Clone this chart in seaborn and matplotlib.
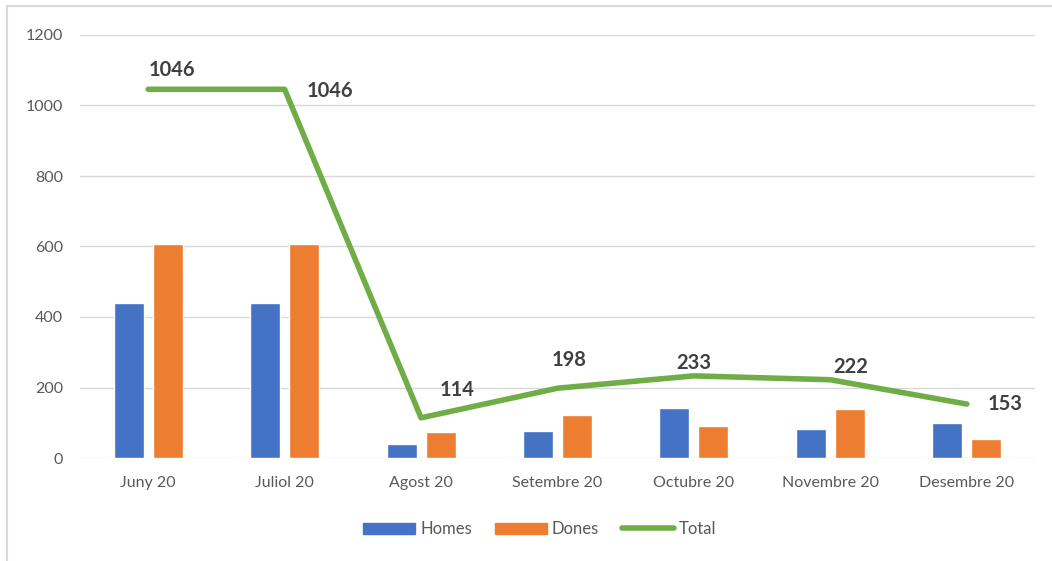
import matplotlib
matplotlib.use("Agg")
import matplotlib.pyplot as plt
from matplotlib.lines import Line2D
from matplotlib.patches import Patch
import seaborn as sns
import pandas as pd
import numpy as np

categories = ["Juny 20", "Juliol 20", "Agost 20", "Setembre 20", "Octubre 20", "Novembre 20", "Desembre 20"]
homes = [440, 440, 40, 76, 142, 83, 99]
dones = [606, 606, 74, 122, 91, 139, 54]
total = [1046, 1046, 114, 198, 233, 222, 153]
yticks = [0, 200, 400, 600, 800, 1000, 1200]

# label offsets in pixels (dx, dy) relative to each point
label_offsets = [(24, 19), (45, -2), (36, 28), (12, 28), (0, 13), (20, 13), (38, 0)]

BLUE = "#4472C4"
ORANGE = "#ED7D31"
GREEN = "#70AD47"

sns.set_theme(style="white")
plt.rcParams["font.family"] = ["Lato", "DejaVu Sans"]

fig = plt.figure(figsize=(10.52, 5.61), dpi=100)
ax = fig.add_axes([80 / 1052, 1 - 458 / 561, (1035 - 80) / 1052, (458 - 35) / 561])

df = pd.DataFrame({
    "cat": categories * 2,
    "serie": ["Homes"] * len(categories) + ["Dones"] * len(categories),
    "val": homes + dones,
})
sns.barplot(data=df, x="cat", y="val", hue="serie", palette=[BLUE, ORANGE],
            width=0.572, gap=0.23, ax=ax, legend=False, saturation=1)

x = np.arange(len(categories))
sns.lineplot(x=x, y=total, color=GREEN, linewidth=4, ax=ax, legend=False,
             solid_capstyle="round", solid_joinstyle="round", zorder=5)

for xi, v, (dx, dy) in zip(x, total, label_offsets):
    ax.annotate(str(v), (xi, v), xytext=(dx * 0.72, dy * 0.72), textcoords="offset points",
                ha="center", va="center", fontsize=14.5, fontweight="bold", color="#404040")

ax.set_xlim(-0.5, len(categories) - 0.5)
ax.set_ylim(0, 1200)
ax.set_yticks(yticks)
ax.set_yticklabels([str(t) for t in yticks])
ax.set_xlabel("")
ax.set_ylabel("")
ax.grid(axis="y", color="#D9D9D9", linewidth=1)
ax.set_axisbelow(True)
for s in ax.spines.values():
    s.set_visible(False)
ax.tick_params(axis="both", length=0, labelsize=11.5, labelcolor="#595959")
ax.tick_params(axis="y", pad=12)
ax.tick_params(axis="x", pad=13)

handles = [Patch(color=BLUE, label="Homes"), Patch(color=ORANGE, label="Dones"),
           Line2D([0], [0], color=GREEN, linewidth=4, label="Total", solid_capstyle="round")]
fig.legend(handles=handles, loc="center", bbox_to_anchor=(540 / 1052, 1 - 529 / 561),
           ncol=3, frameon=False, fontsize=12, labelcolor="#595959",
           handlelength=3.1, handleheight=0.62, handletextpad=0.3, columnspacing=1.4)

# outer chart border
fig.add_artist(Line2D([7 / 1052, 7 / 1052], [0, 1 - 6 / 561], transform=fig.transFigure,
                      color="#D9D9D9", linewidth=1.5))
fig.add_artist(Line2D([7 / 1052, 1], [1 - 6 / 561, 1 - 6 / 561], transform=fig.transFigure,
                      color="#D9D9D9", linewidth=1.5))

fig.savefig("out.png", dpi=100)
